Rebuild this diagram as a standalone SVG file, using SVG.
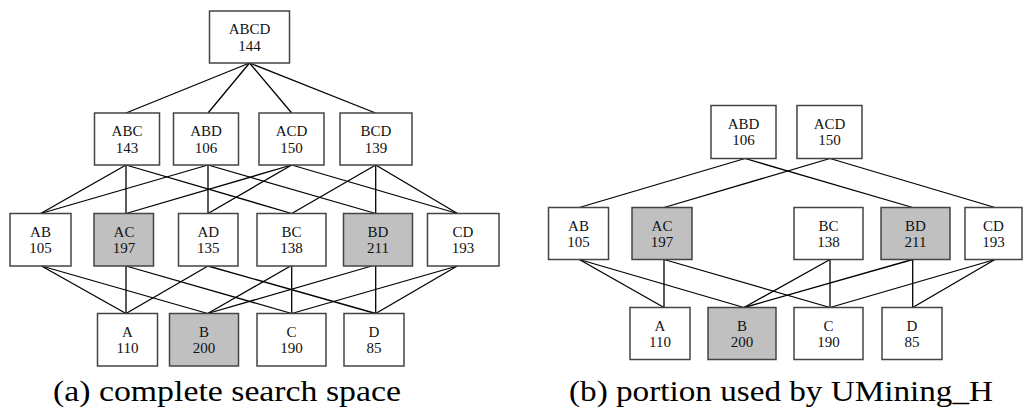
<svg xmlns="http://www.w3.org/2000/svg" width="1025" height="416" viewBox="0 0 1025 416" font-family="Liberation Serif">
<style>
.n rect{fill:#fff;stroke:#444;stroke-width:1.5}
.n.g rect{fill:#c0c0c0}
.n text{font-size:15px;fill:#111;text-anchor:middle}
.e line{stroke:#000;stroke-width:1.3}
.cap{font-size:30px;fill:#000;text-anchor:middle}
</style>
<rect width="1025" height="416" fill="#fff"/>
<g class="e" id="connectors-a">
<line x1="249.5" y1="63" x2="126" y2="113"/>
<line x1="249.5" y1="63" x2="208" y2="113"/>
<line x1="249.5" y1="63" x2="291.7" y2="113"/>
<line x1="249.5" y1="63" x2="375.5" y2="113"/>
<line x1="126" y1="165" x2="40.7" y2="213.5"/>
<line x1="126" y1="165" x2="126" y2="213.5"/>
<line x1="126" y1="165" x2="291.7" y2="213.5"/>
<line x1="208" y1="165" x2="40.7" y2="213.5"/>
<line x1="208" y1="165" x2="208" y2="213.5"/>
<line x1="208" y1="165" x2="375.7" y2="213.5"/>
<line x1="291.7" y1="165" x2="126" y2="213.5"/>
<line x1="291.7" y1="165" x2="208" y2="213.5"/>
<line x1="291.7" y1="165" x2="457.5" y2="213.5"/>
<line x1="375.7" y1="165" x2="291.7" y2="213.5"/>
<line x1="375.7" y1="165" x2="375.7" y2="213.5"/>
<line x1="375.7" y1="165" x2="457.5" y2="213.5"/>
<line x1="41.5" y1="266" x2="126" y2="313.5"/>
<line x1="41.5" y1="266" x2="207.7" y2="313.5"/>
<line x1="126" y1="266" x2="126" y2="313.5"/>
<line x1="126" y1="266" x2="291.7" y2="313.5"/>
<line x1="208" y1="266" x2="126" y2="313.5"/>
<line x1="208" y1="266" x2="375.7" y2="313.5"/>
<line x1="290.5" y1="266" x2="207.7" y2="313.5"/>
<line x1="291.7" y1="266" x2="291.7" y2="313.5"/>
<line x1="371.7" y1="266" x2="207.7" y2="313.5"/>
<line x1="375.7" y1="266" x2="375.7" y2="313.5"/>
<line x1="457.3" y1="266" x2="291.7" y2="313.5"/>
<line x1="457.3" y1="266" x2="375.7" y2="313.5"/>
</g>
<g class="e" id="connectors-b">
<line x1="745" y1="158.5" x2="579.3" y2="207.5"/>
<line x1="745" y1="158.5" x2="912.7" y2="207.5"/>
<line x1="830" y1="158.5" x2="664" y2="207.5"/>
<line x1="830" y1="158.5" x2="995" y2="207.5"/>
<line x1="579.3" y1="259.5" x2="664" y2="307.5"/>
<line x1="579.3" y1="259.5" x2="744" y2="307.5"/>
<line x1="664" y1="259.5" x2="664" y2="307.5"/>
<line x1="664" y1="259.5" x2="830" y2="307.5"/>
<line x1="830" y1="259.5" x2="744" y2="307.5"/>
<line x1="830" y1="259.5" x2="830" y2="307.5"/>
<line x1="912.7" y1="259.5" x2="744" y2="307.5"/>
<line x1="912.7" y1="259.5" x2="912.7" y2="307.5"/>
<line x1="995" y1="259.5" x2="830" y2="307.5"/>
<line x1="995" y1="259.5" x2="912.7" y2="307.5"/>
</g>
<!-- panel a -->
<g class="n" id="a-ABCD"><rect x="209.5" y="11" width="80" height="52"/><text x="249.5" y="34">ABCD</text><text x="249.5" y="50.5">144</text></g>
<g class="n" id="a-ABC"><rect x="94.5" y="113" width="65" height="52"/><text x="127" y="136">ABC</text><text x="127" y="152.5">143</text></g>
<g class="n" id="a-ABD"><rect x="173.5" y="113" width="65" height="52"/><text x="206" y="136">ABD</text><text x="206" y="152.5">106</text></g>
<g class="n" id="a-ACD"><rect x="259" y="113" width="65" height="52"/><text x="291.5" y="136">ACD</text><text x="291.5" y="152.5">150</text></g>
<g class="n" id="a-BCD"><rect x="340" y="113" width="72" height="52"/><text x="376" y="136">BCD</text><text x="376" y="152.5">139</text></g>
<g class="n" id="a-AB"><rect x="10" y="213.5" width="61" height="52.5"/><text x="40.5" y="236.5">AB</text><text x="40.5" y="253">105</text></g>
<g class="n g" id="a-AC"><rect x="94" y="213.5" width="59.5" height="52.5"/><text x="124" y="236.5">AC</text><text x="124" y="253">197</text></g>
<g class="n" id="a-AD"><rect x="178.5" y="213.5" width="59.5" height="52.5"/><text x="208.3" y="236.5">AD</text><text x="208.3" y="253">135</text></g>
<g class="n" id="a-BC"><rect x="257" y="213.5" width="69" height="52.5"/><text x="291.5" y="236.5">BC</text><text x="291.5" y="253">138</text></g>
<g class="n g" id="a-BD"><rect x="343.5" y="213.5" width="69" height="52.5"/><text x="378" y="236.5">BD</text><text x="378" y="253">211</text></g>
<g class="n" id="a-CD"><rect x="427.5" y="213.5" width="71.5" height="52.5"/><text x="463" y="236.5">CD</text><text x="463" y="253">193</text></g>
<g class="n" id="a-A"><rect x="97.5" y="313.5" width="60" height="52.5"/><text x="127.5" y="336.5">A</text><text x="127.5" y="353">110</text></g>
<g class="n g" id="a-B"><rect x="169.5" y="313.5" width="69" height="52.5"/><text x="204" y="336.5">B</text><text x="204" y="353">200</text></g>
<g class="n" id="a-C"><rect x="257" y="313.5" width="69" height="52.5"/><text x="291.5" y="336.5">C</text><text x="291.5" y="353">190</text></g>
<g class="n" id="a-D"><rect x="344" y="313.5" width="60" height="52.5"/><text x="374" y="336.5">D</text><text x="374" y="353">85</text></g>
<!-- panel b -->
<g class="n" id="b-ABD"><rect x="711" y="105.5" width="65" height="53"/><text x="743.5" y="128.5">ABD</text><text x="743.5" y="145">106</text></g>
<g class="n" id="b-ACD"><rect x="797" y="105.5" width="65" height="53"/><text x="829.5" y="128.5">ACD</text><text x="829.5" y="145">150</text></g>
<g class="n" id="b-AB"><rect x="548.5" y="207.5" width="60" height="52"/><text x="578.5" y="230.5">AB</text><text x="578.5" y="247">105</text></g>
<g class="n g" id="b-AC"><rect x="632" y="207.5" width="60" height="52"/><text x="662" y="230.5">AC</text><text x="662" y="247">197</text></g>
<g class="n" id="b-BC"><rect x="794" y="207.5" width="69" height="52"/><text x="828.5" y="230.5">BC</text><text x="828.5" y="247">138</text></g>
<g class="n g" id="b-BD"><rect x="881" y="207.5" width="69" height="52"/><text x="915.5" y="230.5">BD</text><text x="915.5" y="247">211</text></g>
<g class="n" id="b-CD"><rect x="965" y="207.5" width="57" height="52"/><text x="993.5" y="230.5">CD</text><text x="993.5" y="247">193</text></g>
<g class="n" id="b-A"><rect x="630" y="307.5" width="60" height="52"/><text x="660" y="330.5">A</text><text x="660" y="347">110</text></g>
<g class="n g" id="b-B"><rect x="708" y="307.5" width="68" height="52"/><text x="742" y="330.5">B</text><text x="742" y="347">200</text></g>
<g class="n" id="b-C"><rect x="794" y="307.5" width="69" height="52"/><text x="828.5" y="330.5">C</text><text x="828.5" y="347">190</text></g>
<g class="n" id="b-D"><rect x="882" y="307.5" width="60" height="52"/><text x="912" y="330.5">D</text><text x="912" y="347">85</text></g>
<text class="cap" x="227" y="401" textLength="348" lengthAdjust="spacingAndGlyphs">(a) complete search space</text>
<text class="cap" x="781" y="401" textLength="424" lengthAdjust="spacingAndGlyphs">(b) portion used by UMining_H</text>
</svg>
